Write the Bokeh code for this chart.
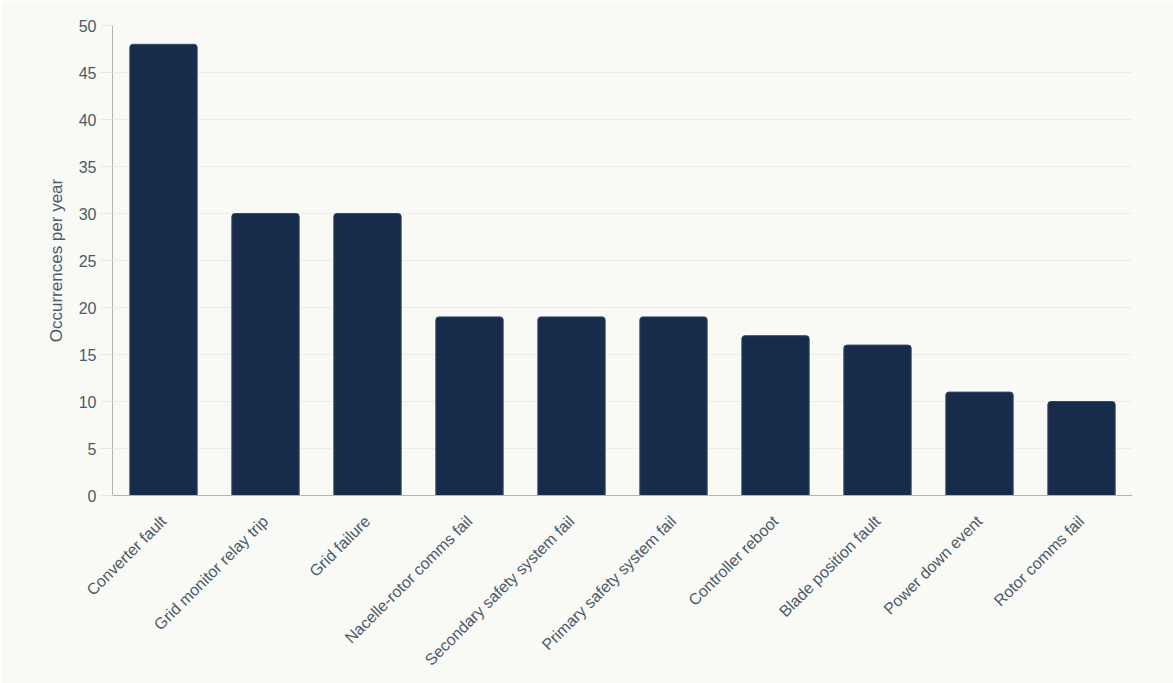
import math
from bokeh.plotting import figure
from bokeh.models import ColumnDataSource, Range1d, SingleIntervalTicker
from bokeh.embed import file_html
from bokeh.resources import INLINE

categories = ["Converter fault", "Grid monitor relay trip", "Grid failure",
              "Nacelle-rotor comms fail", "Secondary safety system fail",
              "Primary safety system fail", "Controller reboot",
              "Blade position fault", "Power down event", "Rotor comms fail"]
occurrences = [48, 30, 30, 19, 19, 19, 17, 16, 11, 10]

BG = "#f9f9f6"
BAR = "#162c4a"
TXT = "#4a5b68"
FONT = "Liberation Sans"

src = ColumnDataSource(dict(cat=categories, val=occurrences))

p = figure(x_range=categories, y_range=Range1d(0, 50),
           width=1173, height=683, output_backend="svg", toolbar_location=None,
           min_border_left=112, min_border_right=41, min_border_top=25,
           min_border_bottom=188)
p.background_fill_color = BG
p.border_fill_color = BG
p.outline_line_color = None

p.vbar(x="cat", top="val", width=0.66, source=src, fill_color=BAR,
       line_color="#3a4a5e", line_width=1, border_radius=[3, 3, 0, 0])

p.yaxis.ticker = SingleIntervalTicker(interval=5)
p.yaxis.axis_label = "Occurrences per year"
p.yaxis.axis_label_text_font = FONT
p.yaxis.axis_label_text_font_style = "normal"
p.yaxis.axis_label_text_font_size = "17px"
p.yaxis.axis_label_text_color = TXT
p.yaxis.axis_label_standoff = 10
p.yaxis.major_label_text_font = FONT
p.yaxis.major_label_text_font_size = "16px"
p.yaxis.major_label_text_color = TXT
p.yaxis.major_tick_in = 0
p.yaxis.major_tick_out = 12
p.yaxis.major_tick_line_color = "#e6e6e6"
p.yaxis.minor_tick_line_color = None
p.yaxis.axis_line_color = "#b0b4b8"
p.yaxis.major_label_standoff = 4

p.xaxis.major_label_orientation = math.pi / 4
p.xaxis.major_label_text_font = FONT
p.xaxis.major_label_text_font_size = "16px"
p.xaxis.major_label_text_color = TXT
p.xaxis.major_tick_line_color = None
p.xaxis.minor_tick_line_color = None
p.xaxis.axis_line_color = "#b0b4b8"
p.xaxis.major_label_standoff = 17

p.xgrid.grid_line_color = None
p.ygrid.grid_line_color = "#ebebeb"

open("out.html", "w").write(file_html(p, INLINE))
